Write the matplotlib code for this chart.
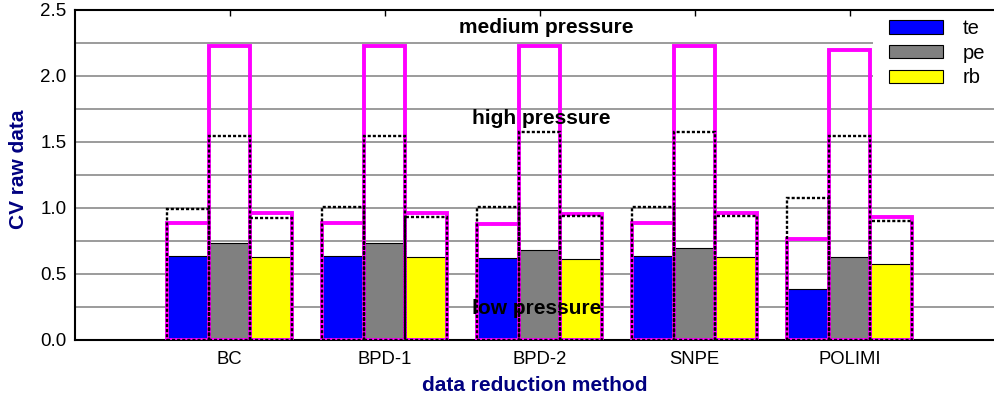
import matplotlib
matplotlib.use("Agg")
import matplotlib.pyplot as plt
import numpy as np

plt.rcParams['font.family'] = ['Liberation Sans', 'DejaVu Sans']

categories = ["BC", "BPD-1", "BPD-2", "SNPE", "POLIMI"]
series = ["te", "pe", "rb"]

# low pressure (filled bars)
low_te = [0.636, 0.636, 0.621, 0.634, 0.384]
low_pe = [0.737, 0.737, 0.682, 0.694, 0.631]
low_rb = [0.631, 0.631, 0.616, 0.631, 0.573]
# high pressure (black dotted outline)
high_te = [0.992, 1.005, 1.008, 1.010, 1.076]
high_pe = [1.545, 1.545, 1.576, 1.578, 1.545]
high_rb = [0.927, 0.932, 0.937, 0.939, 0.904]
# medium pressure (magenta outline)
med_te = [0.884, 0.884, 0.876, 0.884, 0.765]
med_pe = [2.230, 2.230, 2.230, 2.230, 2.197]
med_rb = [0.962, 0.962, 0.957, 0.962, 0.932]

yticks = [0.0, 0.5, 1.0, 1.5, 2.0, 2.5]

colors = ["#0000ff", "#808080", "#ffff00"]
navy = "#000080"
magenta = "#ff00ff"

fig = plt.figure(figsize=(9.95, 3.98), dpi=100)
ax = fig.add_axes([75/995, 58/398, 920/995, 330/398])

x = np.arange(len(categories))
w = 0.268
offsets = [-w, 0.0, w]
lows = [low_te, low_pe, low_rb]
highs = [high_te, high_pe, high_rb]
meds = [med_te, med_pe, med_rb]

for i in range(3):
    ax.bar(x + offsets[i], lows[i], width=w, color=colors[i], edgecolor="black",
           linewidth=0.8, label=series[i], zorder=2)
for i in range(3):
    ax.bar(x + offsets[i], meds[i], width=w, fill=False, edgecolor=magenta,
           linewidth=2.8, zorder=3)
for i in range(3):
    ax.bar(x + offsets[i], highs[i], width=w, fill=False, edgecolor="black",
           linewidth=1.7, linestyle=(0, (1.3, 0.85)), zorder=4)

ax.set_xlim(-0.998, 4.938)
ax.set_ylim(0, 2.5)
ax.set_yticks(yticks)
ax.set_yticklabels([f"{v:.1f}" for v in yticks])
ax.set_yticks(np.arange(0.25, 2.5, 0.25), minor=True)
ax.set_xticks(x)
ax.set_xticklabels(categories)

ax.set_axisbelow(True)
ax.grid(axis="y", which="both", color="#808080", linewidth=1.1, zorder=0.5)

ax.tick_params(axis="y", which="both", length=0, pad=6, labelsize=13.5)
ax.tick_params(axis="x", which="both", bottom=False, top=True, direction="in",
               length=4.5, width=1, pad=8, labelsize=13.3)

for s in ["left", "bottom", "top"]:
    ax.spines[s].set_linewidth(1.5)
ax.spines["right"].set_visible(False)

ax.set_ylabel("CV raw data", fontsize=15, fontweight="bold", color=navy)
ax.yaxis.set_label_coords(-47/920, 0.518)
ax.set_xlabel("data reduction method", fontsize=15, fontweight="bold", color=navy, labelpad=6)

ax.text(2.045, 2.37, "medium pressure", fontsize=15, fontweight="bold", ha="center", va="center", zorder=6)
ax.text(2.01, 1.68, "high pressure", fontsize=15, fontweight="bold", ha="center", va="center", zorder=6)
ax.text(1.98, 0.235, "low pressure", fontsize=15, fontweight="bold", ha="center", va="center", zorder=6)

leg = ax.legend(loc="upper right", bbox_to_anchor=(1.0 + 6/995, 1.0 - 3/398),
                bbox_transform=fig.transFigure,
                fontsize=14.5, frameon=True, facecolor="white", edgecolor="none",
                framealpha=1, fancybox=False, handlelength=2.69, handleheight=0.65,
                handletextpad=0.95, labelspacing=0.28, borderpad=0.8, borderaxespad=0.0)
leg.set_zorder(2.4)

fig.savefig("out.png", dpi=100, facecolor="white")
